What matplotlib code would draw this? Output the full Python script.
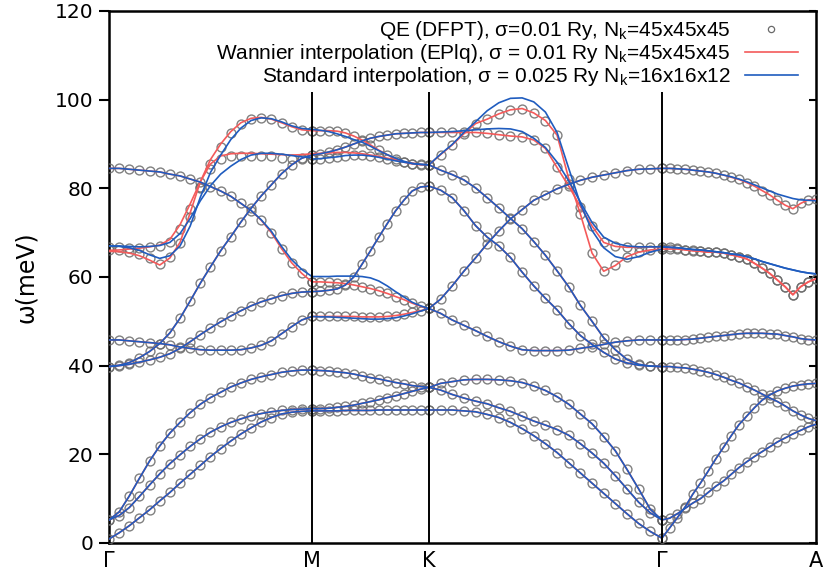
import numpy as np
import matplotlib
matplotlib.use("Agg")
import matplotlib.pyplot as plt

plt.rcParams['mathtext.fontset'] = 'custom'
plt.rcParams['mathtext.rm'] = 'Liberation Sans'

# high-symmetry path
labels = ["Γ", "M", "K", "Γ", "A"]
seg_len = [1.0, 0.576, 1.148, 0.759]     # relative lengths of G-M, M-K, K-G, G-A
seg_names = ["GM", "MK", "KG", "GA"]

# QE (DFPT) phonon frequencies in meV, one list per branch
qe_gm = [
    [0.9, 2.3, 3.9, 5.7, 7.5, 9.5, 11.4, 13.5, 15.5, 17.5, 19.5, 21.3, 23.0, 24.6, 26.0, 27.3, 28.3, 29.1, 29.5, 29.7, 29.8],
    [5.2, 6.2, 8.0, 10.5, 13.1, 15.6, 17.9, 19.9, 21.8, 23.5, 25.0, 26.2, 27.2, 28.0, 28.7, 29.2, 29.6, 29.9, 30.1, 30.2, 30.3],
    [5.2, 7.0, 10.6, 14.6, 18.5, 21.9, 24.8, 27.2, 29.4, 31.3, 32.8, 34.0, 35.2, 36.1, 36.9, 37.5, 38.0, 38.5, 38.8, 39.0, 39.0],
    [39.8, 40.0, 40.3, 40.8, 41.3, 41.9, 42.7, 43.9, 45.4, 47.0, 48.5, 49.9, 51.2, 52.4, 53.5, 54.4, 55.1, 55.8, 56.3, 56.6, 56.7],
    [45.8, 45.8, 45.6, 45.4, 45.2, 45.0, 44.7, 44.2, 43.9, 43.6, 43.5, 43.5, 43.5, 43.6, 44.0, 44.6, 45.6, 47.2, 48.8, 50.3, 51.1],
    [39.8, 40.1, 40.7, 41.8, 43.2, 45.0, 47.4, 50.7, 54.6, 58.6, 62.3, 65.9, 69.1, 72.4, 75.5, 78.3, 80.8, 83.3, 85.3, 86.8, 87.5],
    [66.1, 66.0, 65.7, 65.2, 64.2, 62.9, 64.6, 67.6, 73.6, 80.4, 85.6, 89.4, 92.4, 94.5, 95.6, 95.9, 95.6, 94.8, 93.9, 93.2, 93.0],
    [66.8, 66.7, 66.6, 66.6, 66.7, 67.0, 67.9, 70.8, 75.3, 80.0, 84.3, 86.6, 87.2, 87.3, 87.3, 87.3, 87.2, 86.9, 86.7, 86.6, 86.6],
    [84.5, 84.5, 84.3, 84.1, 83.9, 83.7, 83.2, 82.8, 82.1, 81.4, 80.4, 79.4, 78.2, 76.6, 75.0, 72.8, 70.0, 66.4, 63.2, 60.8, 58.9],
]
qe_mk = [
    [29.8, 29.8, 29.8, 29.8, 29.9, 29.9, 29.9, 29.9, 30.0, 30.0, 30.0, 30.0, 30.0, 30.0, 30.0],
    [30.3, 30.3, 30.4, 30.6, 30.8, 31.1, 31.5, 31.9, 32.3, 32.8, 33.2, 33.7, 34.2, 34.7, 35.1],
    [39.0, 38.9, 38.8, 38.6, 38.4, 38.1, 37.7, 37.3, 37.0, 36.6, 36.2, 35.9, 35.5, 35.3, 35.1],
    [56.7, 56.8, 57.0, 57.3, 58.2, 60.0, 62.9, 65.9, 69.0, 72.0, 74.9, 77.3, 79.4, 80.3, 80.5],
    [51.1, 51.1, 51.1, 51.1, 51.1, 51.1, 51.0, 51.0, 51.0, 51.1, 51.3, 51.6, 52.0, 52.4, 52.9],
    [87.5, 87.8, 88.2, 88.7, 89.3, 90.0, 90.7, 91.3, 91.7, 92.0, 92.3, 92.4, 92.5, 92.6, 92.6],
    [93.0, 93.0, 93.0, 92.9, 92.5, 91.8, 90.9, 89.8, 88.6, 87.6, 86.6, 85.9, 85.5, 85.3, 85.3],
    [86.6, 86.7, 86.9, 87.1, 87.4, 87.5, 87.5, 87.3, 87.0, 86.6, 86.2, 85.9, 85.6, 85.4, 85.3],
    [58.9, 58.9, 58.8, 58.7, 58.5, 58.2, 57.8, 57.4, 56.9, 56.3, 55.6, 54.9, 54.1, 53.4, 52.9],
]
qe_kg = [
    [92.6, 92.6, 92.6, 92.6, 92.6, 92.4, 92.1, 91.8, 91.6, 90.9, 89.0, 84.7, 80.5, 75.9, 71.5, 67.8, 66.9, 66.7, 66.7, 66.8, 66.8],
    [85.3, 87.6, 89.8, 92.3, 94.6, 95.6, 96.8, 97.7, 98.0, 97.0, 95.3, 92.0, 82.2, 74.2, 65.4, 61.3, 62.6, 64.6, 65.6, 66.1, 66.3],
    [85.3, 84.1, 83.1, 81.9, 80.1, 77.9, 75.6, 73.2, 70.9, 68.0, 64.9, 61.4, 57.8, 53.6, 50.0, 46.3, 43.6, 41.4, 40.3, 39.9, 39.8],
    [80.5, 79.6, 77.9, 75.0, 71.6, 69.0, 67.0, 64.4, 61.1, 58.0, 55.2, 52.6, 49.5, 46.8, 44.8, 43.0, 41.5, 40.6, 40.1, 39.9, 39.8],
    [52.9, 55.0, 58.0, 61.3, 64.3, 67.5, 70.4, 73.1, 75.2, 77.3, 78.6, 79.9, 80.9, 81.8, 82.5, 83.0, 83.5, 84.0, 84.3, 84.4, 84.5],
    [52.9, 51.8, 50.3, 49.1, 47.9, 46.6, 45.4, 44.4, 43.6, 43.4, 43.4, 43.4, 43.5, 43.9, 44.3, 44.8, 45.3, 45.6, 45.8, 45.8, 45.8],
    [35.1, 36.0, 36.4, 36.8, 36.9, 36.9, 36.8, 36.6, 36.2, 35.4, 34.4, 33.0, 31.3, 29.1, 26.9, 24.0, 20.8, 16.6, 12.2, 7.6, 5.2],
    [35.1, 34.5, 33.5, 32.7, 32.0, 31.4, 30.5, 29.7, 28.6, 27.5, 26.6, 25.6, 24.3, 22.4, 20.3, 18.0, 15.2, 12.2, 9.2, 6.8, 5.2],
    [30.0, 30.0, 30.0, 29.8, 29.6, 29.0, 28.3, 27.2, 25.8, 24.2, 22.4, 20.4, 18.1, 15.8, 13.5, 11.2, 8.9, 6.6, 4.4, 2.6, 1.1],
]
qe_ga = [
    [1.1, 3.4, 5.7, 8.1, 11.0, 13.5, 16.2, 19.0, 21.6, 24.2, 26.7, 28.6, 30.5, 32.2, 33.4, 34.3, 34.9, 35.4, 35.7, 35.9, 36.0],
    [5.2, 5.6, 6.6, 7.8, 9.0, 10.0, 11.4, 12.8, 14.0, 15.5, 17.0, 18.3, 19.5, 20.6, 21.7, 22.8, 23.7, 24.6, 25.4, 26.2, 26.8],
    [39.8, 39.8, 39.6, 39.5, 39.2, 38.9, 38.5, 38.0, 37.4, 36.7, 36.1, 35.3, 34.5, 33.6, 32.7, 31.9, 30.9, 29.8, 28.9, 28.1, 27.6],
    [45.8, 45.8, 45.8, 45.9, 46.0, 46.2, 46.4, 46.6, 46.8, 47.0, 47.2, 47.3, 47.3, 47.3, 47.2, 47.1, 46.8, 46.5, 46.1, 45.9, 45.8],
    [66.3, 66.3, 66.3, 66.1, 65.9, 65.8, 65.6, 65.6, 65.4, 65.0, 64.6, 64.1, 63.1, 62.0, 60.8, 59.3, 57.8, 56.0, 57.8, 58.9, 59.6],
    [66.8, 66.7, 66.5, 66.2, 66.0, 65.8, 65.6, 65.6, 65.4, 65.0, 64.6, 64.1, 63.1, 62.0, 60.8, 59.3, 57.8, 56.0, 57.8, 58.9, 59.6],
    [84.5, 84.5, 84.4, 84.3, 84.1, 83.9, 83.7, 83.4, 83.0, 82.5, 82.0, 81.3, 80.5, 79.5, 78.5, 77.3, 76.2, 75.4, 76.6, 77.4, 77.5],
]
qe_data = {"GM": qe_gm, "MK": qe_mk, "KG": qe_kg, "GA": qe_ga}

# branches where the Wannier (EPIq) curve departs from the QE points
wannier_dev = {
    ("GM", 6): [65.8, 65.7, 65.4, 64.8, 63.8, 62.7, 64.3, 67.8, 74.5, 81.5, 86.5, 90.0, 92.8, 94.8, 95.8, 96.0, 95.6, 94.8, 93.9, 93.2, 93.0],
    ("GM", 7): [66.0, 66.1, 66.3, 66.5, 66.8, 67.2, 68.5, 71.8, 76.5, 81.5, 85.5, 87.3, 87.8, 87.9, 87.9, 87.8, 87.7, 87.6, 87.5, 87.6, 87.8],
    ("MK", 7): [87.8, 87.9, 88.0, 88.1, 88.1, 88.0, 87.8, 87.5, 87.2, 86.8, 86.4, 86.0, 85.7, 85.4, 85.3],
}

# branches where the standard interpolation departs from the QE points
standard_dev = {
    ("GM", 6): [67.0, 66.9, 66.6, 66.0, 65.0, 64.2, 64.8, 67.0, 71.5, 78.0, 83.6, 87.5, 91.0, 93.6, 95.3, 95.9, 95.7, 95.0, 94.1, 93.5, 93.3],
    ("GM", 7): [67.0, 67.0, 66.9, 66.8, 66.9, 67.1, 67.8, 69.8, 73.2, 77.2, 80.6, 83.2, 85.0, 86.5, 87.5, 87.9, 87.9, 87.7, 87.4, 87.1, 86.9],
    ("GM", 8): [84.5, 84.5, 84.3, 84.1, 83.9, 83.7, 83.2, 82.8, 82.1, 81.4, 80.4, 79.4, 78.2, 76.6, 75.0, 72.9, 70.3, 66.9, 63.9, 61.7, 60.1],
    ("MK", 4): [51.1, 51.0, 51.0, 50.9, 50.8, 50.7, 50.6, 50.5, 50.5, 50.6, 50.8, 51.2, 51.7, 52.3, 52.9],
    ("MK", 6): [93.3, 93.1, 92.8, 92.3, 91.7, 91.0, 90.4, 89.5, 88.5, 87.6, 86.8, 86.1, 85.6, 85.4, 85.3],
    ("MK", 8): [60.1, 60.1, 60.1, 60.2, 60.2, 60.2, 60.1, 59.8, 59.1, 58.0, 56.7, 55.5, 54.3, 53.5, 52.9],
    ("KG", 0): [92.6, 92.7, 92.8, 93.0, 93.2, 93.4, 93.5, 93.4, 92.8, 91.3, 89.2, 85.9, 81.7, 76.9, 72.3, 69.0, 67.6, 67.0, 66.8, 66.8, 66.8],
    ("KG", 1): [85.3, 87.7, 89.9, 92.6, 95.0, 97.5, 99.3, 100.3, 100.4, 99.5, 97.2, 92.6, 84.5, 76.5, 70.5, 66.6, 64.6, 64.0, 64.6, 65.6, 66.3],
    ("GA", 4): [66.8, 66.7, 66.6, 66.4, 66.2, 66.1, 65.9, 65.7, 65.5, 65.2, 65.0, 64.6, 64.1, 63.5, 63.0, 62.5, 62.0, 61.6, 61.2, 60.9, 60.7],
    ("GA", 5): [66.8, 66.7, 66.6, 66.4, 66.2, 66.1, 65.9, 65.7, 65.5, 65.2, 65.0, 64.6, 64.1, 63.5, 63.0, 62.5, 62.0, 61.6, 61.2, 60.9, 60.7],
    ("GA", 6): [84.5, 84.5, 84.4, 84.3, 84.1, 83.9, 83.7, 83.4, 83.0, 82.6, 82.1, 81.5, 80.8, 80.1, 79.4, 78.7, 78.2, 77.7, 77.4, 77.3, 77.2],
}

RED = "#f45a5a"
BLUE = "#1f5cbf"

fig = plt.figure(figsize=(8.24, 5.70), dpi=100)
ax = fig.add_axes([109/824, 1 - 543/570, 707/824, 532/570])

ticks = np.concatenate([[0], np.cumsum(seg_len)])
for i, name in enumerate(seg_names):
    bands = qe_data[name]
    k = np.linspace(ticks[i], ticks[i+1], len(bands[0]))
    for b, w in enumerate(bands):
        ax.plot(k, w, 'o', ms=6.4, mfc='none', mec='#6a6a6a', mew=1.0, alpha=0.85, zorder=3)
        ax.plot(k, wannier_dev.get((name, b), w), '-', color=RED, lw=1.2, zorder=4)
        ax.plot(k, standard_dev.get((name, b), w), '-', color=BLUE, lw=1.2, zorder=5)

# vertical guides at M, K, Gamma stop below the legend
ax.vlines(ticks[1:-1], 0, 101.7, color='black', lw=1.4, zorder=6)

ax.set_xlim(ticks[0], ticks[-1])
ax.set_ylim(0, 120)
ax.set_xticks(ticks)
ax.set_xticklabels(labels, fontsize=15)
ax.tick_params(axis='x', length=0, pad=6)
ax.set_yticks(range(0, 121, 20))
ax.tick_params(axis='y', direction='out', length=7, width=1.5, labelsize=14.5, pad=4)
ax.set_ylabel("ω(meV)", fontsize=17, labelpad=12)
for s in ax.spines.values():
    s.set_linewidth(1.8)

right = ax.secondary_yaxis('right')
right.set_yticks(range(0, 121, 20))
right.tick_params(direction='in', length=5, width=1.5, labelright=False)

# legend proxies
h_qe, = ax.plot([], [], 'o', ms=4.5, mfc='none', mec='#6a6a6a', mew=0.9)
h_w, = ax.plot([], [], '-', color=RED, lw=1.2)
h_s, = ax.plot([], [], '-', color=BLUE, lw=1.2)
leg = ax.legend([h_qe, h_w, h_s],
                ["QE (DFPT), σ=0.01 Ry, N$_\\mathrm{k}$=45x45x45",
                 "Wannier interpolation (EPlq), σ = 0.01 Ry N$_\\mathrm{k}$=45x45x45",
                 "Standard interpolation, σ = 0.025 Ry N$_\\mathrm{k}$=16x16x12"],
                loc='upper right', bbox_to_anchor=(798/824, 1 - 19/570),
                bbox_transform=fig.transFigure, frameon=False, markerfirst=False,
                handlelength=2.55, handletextpad=0.7, labelspacing=0.0,
                borderpad=0, borderaxespad=0,
                prop={'family': 'Liberation Sans', 'size': 15})

fig.savefig("out.png", dpi=100)
